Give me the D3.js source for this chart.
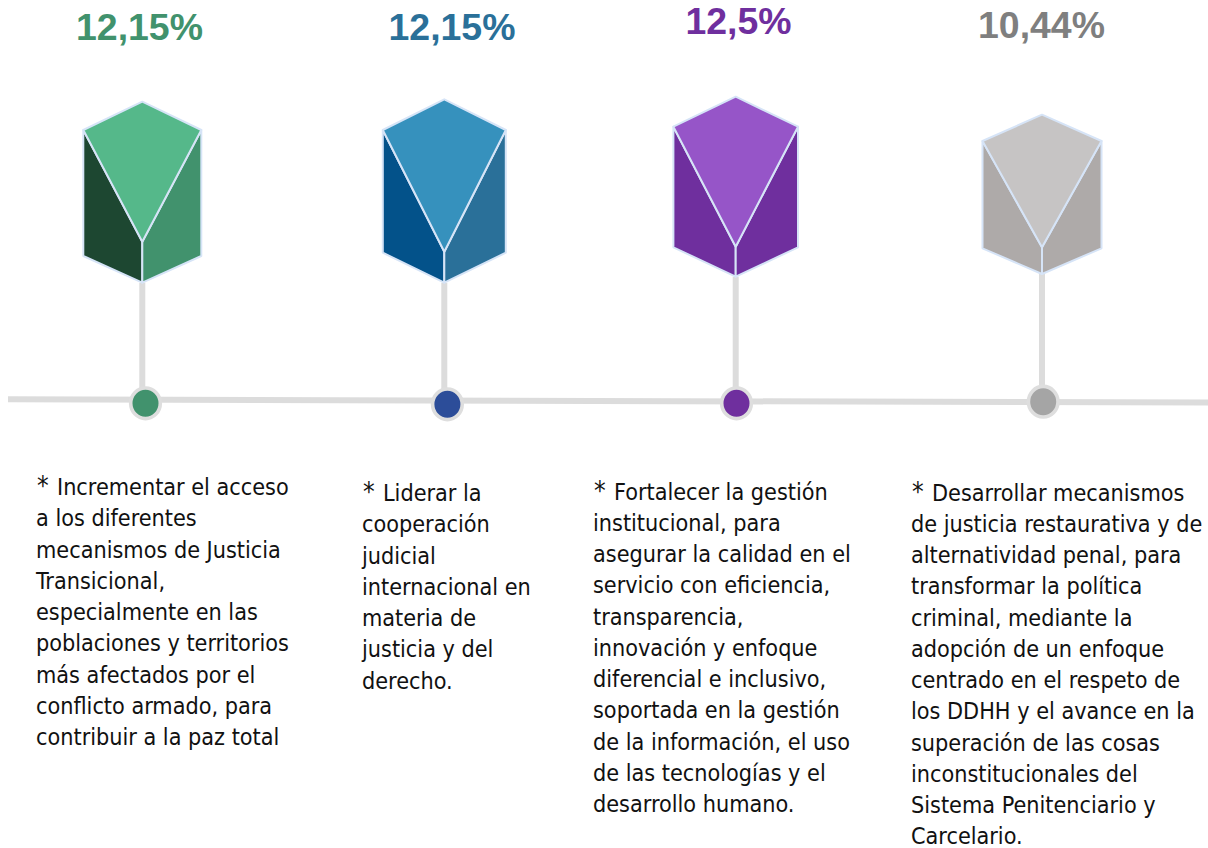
<!DOCTYPE html>
<html><head><meta charset="utf-8">
<script src="https://cdnjs.cloudflare.com/ajax/libs/d3/7.8.5/d3.min.js"></script>
<style>html,body{margin:0;background:#fff}svg{display:block}</style>
</head><body><svg id="c" width="1208" height="848"></svg>
<script>
const categories = ["Justicia Transicional","Cooperación","Gestión institucional","Justicia restaurativa"];
const labels = ["12,15%","12,15%","12,5%","10,44%"];
const values = [12.15,12.15,12.5,10.44];
const descriptions = [
 ["Incrementar el acceso","a los diferentes","mecanismos de Justicia","Transicional,","especialmente en las","poblaciones y territorios","más afectados por el","conflicto armado, para","contribuir a la paz total"],
 ["Liderar la","cooperación","judicial","internacional en","materia de","justicia y del","derecho."],
 ["Fortalecer la gestión","institucional, para","asegurar la calidad en el","servicio con eficiencia,","transparencia,","innovación y enfoque","diferencial e inclusivo,","soportada en la gestión","de la información, el uso","de las tecnologías y el","desarrollo humano."],
 ["Desarrollar mecanismos","de justicia restaurativa y de","alternatividad penal, para","transformar la política","criminal, mediante la","adopción de un enfoque","centrado en el respeto de","los DDHH y el avance en la","superación de las cosas","inconstitucionales del","Sistema Penitenciario y","Carcelario."]
];
const topColors = ["#55b88a","#3691bd","#9655c8","#c6c4c4"];
const leftColors = ["#1d4731","#03528a","#6f2f9e","#aeaaa9"];
const rightColors = ["#41926d","#2a7099","#6f2f9e","#aeaaa9"];
const labelColors = ["#41926d","#2a7099","#6f2f9e","#7f7f7f"];
const dotColors = ["#41926d","#2c4d99","#6f2f9e","#a5a5a5"];

// layout scales: one entry per category
const sc = r => d3.scaleOrdinal(categories, r);
const cx = sc([142.3,444.3,735.7,1042]), halfW = sc([59,61.5,62.3,59.5]);
const yTop = sc([101.7,99.3,96.7,114.7]), ySide = sc([130,130,126.7,141]);
const yLow = sc([256,252.7,247.3,248.3]), yIn = sc([241.7,251.7,246.7,247.3]), yBot = sc([282.7,282.7,276.7,274]);
const dotX = sc([145.5,447.4,736.5,1043.2]), dotY = sc([403.3,404.3,403.3,401.7]);
const labelX = sc([139.5,452,738.5,1041.5]), labelY = sc([39.5,39.5,34,37.5]);
const textX = sc([36,362,593,911]), textY = sc([495,501,499.5,500.5]);
const timeline = d3.scaleLinear().domain([8,1208]).range([399.3,402.6]);

const svg = d3.select("#c");
const line = d3.line();

svg.append("path").attr("d",line([[8,timeline(8)],[1208,timeline(1208)]]))
  .attr("stroke","#dcdcdc").attr("stroke-width",6).attr("fill","none");

const g = svg.selectAll("g.item").data(categories).join("g").attr("class","item");
g.append("line").attr("x1",d=>cx(d)).attr("x2",d=>cx(d)).attr("y1",d=>yBot(d)).attr("y2",d=>dotY(d))
  .attr("stroke","#dcdcdc").attr("stroke-width",6);
g.append("ellipse").attr("cx",d=>dotX(d)).attr("cy",d=>dotY(d)).attr("rx",14.8).attr("ry",15.3)
  .attr("fill",(d,i)=>dotColors[i]).attr("stroke","#dedede").attr("stroke-width",3.6);

const stroke = "#d6e4f7";
const face = (sel,fn,col) => sel.append("path").attr("d",d=>line(fn(d))+"Z").attr("fill",(d,i)=>col[i])
  .attr("stroke",stroke).attr("stroke-width",2).attr("stroke-linejoin","round");
face(g,d=>[[cx(d)-halfW(d),ySide(d)],[cx(d),yIn(d)],[cx(d),yBot(d)],[cx(d)-halfW(d),yLow(d)]],leftColors);
face(g,d=>[[cx(d)+halfW(d),ySide(d)],[cx(d),yIn(d)],[cx(d),yBot(d)],[cx(d)+halfW(d),yLow(d)]],rightColors);
face(g,d=>[[cx(d),yTop(d)],[cx(d)+halfW(d),ySide(d)],[cx(d),yIn(d)],[cx(d)-halfW(d),ySide(d)]],topColors);

g.append("text").attr("x",d=>labelX(d)).attr("y",d=>labelY(d)).attr("text-anchor","middle")
  .attr("font-family","'Liberation Sans',sans-serif").attr("font-weight",700).attr("font-size",37)
  .attr("fill",(d,i)=>labelColors[i])
  .text((d,i)=>labels[i])
  .attr("textLength",(d,i)=>[127,127,106,127][i]).attr("lengthAdjust","spacingAndGlyphs");

g.each(function(d,i){
  const t = d3.select(this).append("text").attr("font-family","'DejaVu Sans',sans-serif").attr("font-stretch","condensed")
    .attr("font-size",23.2).attr("fill","#111");
  descriptions[i].forEach((s,k)=>{
    if(k===0){
      t.append("tspan").attr("x",textX(d)+1).attr("y",textY(d)).attr("font-size",26).text("*");
      t.append("tspan").attr("x",textX(d)+21).attr("y",textY(d)).text(s);
    } else {
      t.append("tspan").attr("x",textX(d)).attr("y",textY(d)+k*31.25).text(s);
    }
  });
});
</script></body></html>
